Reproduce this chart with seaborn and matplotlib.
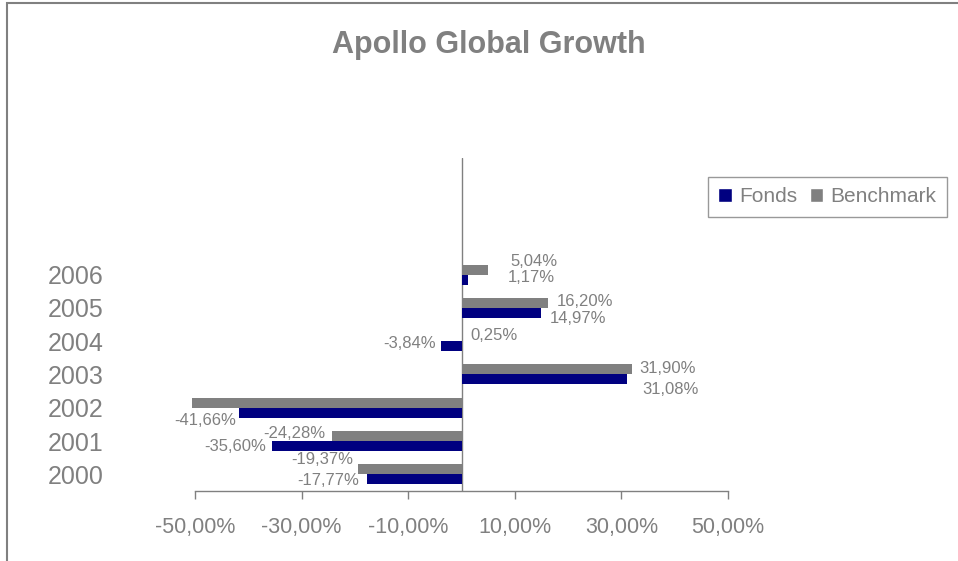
import pandas as pd
import numpy as np
import seaborn as sns
import matplotlib.pyplot as plt
from matplotlib.patches import Patch, Rectangle

# data
years = ['2006', '2005', '2004', '2003', '2002', '2001', '2000']
fonds = [1.17, 14.97, -3.84, 31.08, -41.66, -35.60, -17.77]
benchmark = [5.04, 16.20, 0.25, 31.90, -50.60, -24.28, -19.37]
benchmark_shown = [True, True, True, True, False, True, True]  # 2002 label is not visible
x_ticks = [-50, -30, -10, 10, 30, 50]

NAVY = '#000080'
GREY = '#808080'

# small nudges (pixels, x right / y down) so the labels sit like in the original
nudge = {
    ('Benchmark', '2006'): (14, -8), ('Fonds', '2006'): (32, -2),
    ('Benchmark', '2005'): (1, -1), ('Fonds', '2005'): (0, 6),
    ('Benchmark', '2004'): (0, -1), ('Fonds', '2004'): (0, -3),
    ('Benchmark', '2003'): (0, -1), ('Fonds', '2003'): (7, 10),
    ('Fonds', '2002'): (2, 8),
    ('Benchmark', '2001'): (-2, -3), ('Fonds', '2001'): (-1, 0),
    ('Benchmark', '2000'): (0, -10), ('Fonds', '2000'): (-3, 1),
}


def fmt(v):
    return f'{v:.2f}'.replace('.', ',') + '%'


df = pd.concat([
    pd.DataFrame({'year': years, 'series': 'Fonds', 'value': fonds, 'shown': True}),
    pd.DataFrame({'year': years, 'series': 'Benchmark', 'value': benchmark, 'shown': benchmark_shown}),
])

sns.set_style('white')
plt.rcParams['font.family'] = ['Liberation Sans', 'DejaVu Sans']

fig = plt.figure(figsize=(9.58, 5.61), dpi=100)
ax = fig.add_axes([195 / 958, 1 - 491 / 561, 533 / 958, 333 / 561])

hue_order = ['Benchmark', 'Fonds']
sns.barplot(data=df, y='year', x='value', hue='series', order=years, hue_order=hue_order,
            palette={'Fonds': NAVY, 'Benchmark': GREY}, width=0.6, saturation=1,
            errorbar=None, orient='h', linewidth=0, legend=False, ax=ax)

# value labels at the bar ends
for series, cont in zip(hue_order, ax.containers):
    sub = df[df['series'] == series].set_index('year')
    for year, bar in zip(years, cont):
        bar.set_clip_on(False)  # the 2002 benchmark bar runs past -50 %
        bar.set_zorder(3)
        v = sub.loc[year, 'value']
        if not sub.loc[year, 'shown']:
            continue
        dx, dy = nudge.get((series, year), (0, 0))
        yc = bar.get_y() + bar.get_height() / 2
        if v >= 0:
            ax.annotate(fmt(v), (v, yc), xytext=(8 + dx, -dy), textcoords='offset pixels',
                        ha='left', va='center', fontsize=12, color=GREY, annotation_clip=False)
        else:
            ax.annotate(fmt(v), (v, yc), xytext=(-5 + dx, -dy), textcoords='offset pixels',
                        ha='right', va='center', fontsize=12, color=GREY, annotation_clip=False)

ax.set_xlim(-50, 50)
ax.set_ylim(6.5, -3.5)
ax.axvline(0, color=GREY, lw=1, zorder=1)
for side in ['top', 'right', 'left']:
    ax.spines[side].set_visible(False)
ax.spines['bottom'].set_color(GREY)
ax.spines['bottom'].set_linewidth(1)

ax.set_xticks(x_ticks)
ax.set_xticklabels([fmt(t) for t in x_ticks])
ax.tick_params(axis='x', direction='out', length=6, width=1, color=GREY, labelcolor=GREY,
               labelsize=15.5, pad=13, bottom=True)
ax.tick_params(axis='y', length=0, labelcolor=GREY, labelsize=18, pad=66)
ax.set_xlabel('')
ax.set_ylabel('')
ax.grid(False)

fig.text(489 / 958, 1 - 45 / 561, 'Apollo Global Growth', ha='center', va='center',
         fontsize=22, fontweight='bold', color=GREY)

handles = [Patch(facecolor=NAVY, label='Fonds'), Patch(facecolor=GREY, label='Benchmark')]
leg = fig.legend(handles=handles, loc='upper left', bbox_to_anchor=(708 / 958, 1 - 177 / 561),
                 ncol=2, fontsize=15, frameon=True, fancybox=False, borderaxespad=0,
                 handlelength=0.65, handleheight=0.65, handletextpad=0.35, columnspacing=0.6,
                 borderpad=0.5, labelcolor=GREY)
leg.get_frame().set_edgecolor(GREY)
leg.get_frame().set_linewidth(1)

# chart area border (only left and top edges are inside the image)
fig.patches.append(Rectangle((7 / 958, -0.1), 2, 1 - 3 / 561 + 0.1, transform=fig.transFigure,
                             fill=False, edgecolor=GREY, lw=1.5))

fig.savefig('out.png', dpi=100)
